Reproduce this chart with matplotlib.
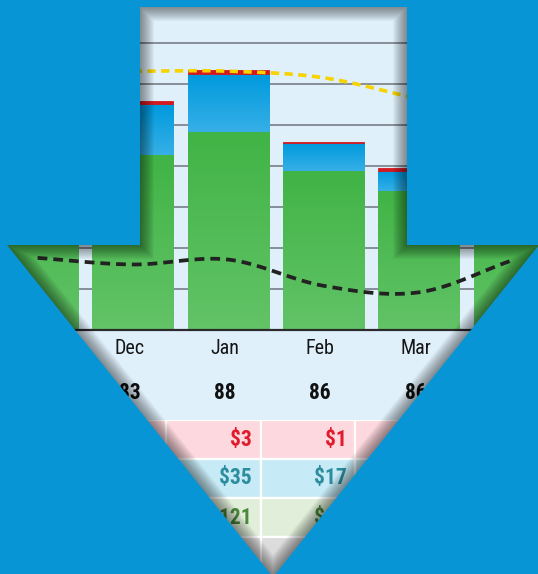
import numpy as np
import matplotlib
matplotlib.use( "Agg" )
import matplotlib.pyplot as plt
from matplotlib.patches import Polygon, PathPatch
from matplotlib.path import Path
from matplotlib import transforms
from matplotlib.colors import to_rgb


# data
months = ["Nov", "Dec", "Jan", "Feb", "Mar", "Apr"]
green_vals = [96, 107, 121, 97, 85, 78]
blue_vals = [26, 31, 35, 17, 12, 14]
red_vals = [2, 2, 3, 1, 2, 2]
yellow_vals = [158, 158, 158, 154, 141, 128]
black_vals = [44, 40, 43, 27, 23, 43]
score_vals = [85, 83, 88, 86, 86, 84]

W, H = 538, 574
BG_BLUE = "#0895D6"
LIGHT = "#DFF0FB"
NARROW = ["Roboto Condensed", "Liberation Sans", "DejaVu Sans"]


def px_axes( fig, x0, y0, x1, y1, **kw ):
    # axes placed in pixel coords (y from top)
    return fig.add_axes( [x0 / W, 1 - y1 / H, (x1 - x0) / W, (y1 - y0) / H], **kw )


def smooth_curve( x, y, n=24 ):
    x = np.asarray( x, float )
    y = np.asarray( y, float )
    m = np.gradient( y, x )
    xs, ys = [], []
    for i in range( len( x ) - 1 ):
        t = np.linspace( 0, 1, n, endpoint=False )
        h = x[i + 1] - x[i]
        h00 = 2 * t**3 - 3 * t**2 + 1
        h10 = t**3 - 2 * t**2 + t
        h01 = -2 * t**3 + 3 * t**2
        h11 = t**3 - t**2
        xs.append( x[i] + t * h )
        ys.append( h00 * y[i] + h10 * h * m[i] + h01 * y[i + 1] + h11 * h * m[i + 1] )
    xs.append( [x[-1]] )
    ys.append( [y[-1]] )
    return np.concatenate( xs ), np.concatenate( ys )


def gradient_fill( ax, patch, top, bottom ):
    x, y = patch.get_x(), patch.get_y()
    w, h = patch.get_width(), patch.get_height()
    c = np.linspace( to_rgb( bottom ), to_rgb( top ), 32 ).reshape( 32, 1, 3 )
    ax.imshow( c, extent=[x, x + w, y, y + h], origin="lower", aspect="auto",
               interpolation="bilinear", zorder=patch.get_zorder() + 0.1 )


def draw_chart( fig, ax_bg ):
    ax = px_axes( fig, -10.05, 2.4, 561.75, 330 )
    ax.set_facecolor( "none" )
    pos = np.arange( len( months ) )

    ax.set_yticks( np.arange( 0, 201, 25 ) )
    ax.grid( axis="y", color="#7F878F", linewidth=1.3 )
    ax.set_axisbelow( True )

    g = ax.bar( pos, green_vals, width=0.85, color="#45B54A", zorder=2 )
    b = ax.bar( pos, blue_vals, bottom=green_vals, width=0.85, color="#1AA3E2", zorder=2 )
    tops = np.array( green_vals ) + np.array( blue_vals )
    ax.bar( pos, red_vals, bottom=tops, width=0.85, color="#D51920",
            edgecolor="#D51920", linewidth=0.6, zorder=3 )

    for p in g:
        gradient_fill( ax, p, "#41B446", "#62C367" )
    for p in b:
        gradient_fill( ax, p, "#009ADE", "#36AFE6" )

    xs, ys = smooth_curve( pos, yellow_vals )
    ax.plot( xs, ys, color="#F7D300", linewidth=2.6, dashes=(2.3, 1.5), zorder=5 )
    xs, ys = smooth_curve( pos, black_vals )
    ax.plot( xs, ys, color="#222222", linewidth=2.7, dashes=(2.6, 1.6), zorder=5 )

    ax.set_xlim( -0.5, len( months ) - 0.5 )
    ax.set_ylim( 0, 200 )
    ax.set_xticks( [] )
    ax.tick_params( left=False, labelleft=False )
    for s in ["top", "left", "right"]:
        ax.spines[s].set_visible( False )
    ax.spines["bottom"].set_color( "#2B2B2B" )
    ax.spines["bottom"].set_linewidth( 1.6 )

    # month labels and score row
    tr = transforms.blended_transform_factory( ax.transData, ax_bg.transData )
    for i, m in enumerate( months ):
        ax.text( i - 0.035, 348, m, transform=tr, ha="center", va="center",
                 fontsize=14.5, color="#151515", family=NARROW )
        ax.text( i - 0.035, 393, str( score_vals[i] ), transform=tr, ha="center",
                 va="center", fontsize=15.5, fontweight="bold", color="#111111",
                 family=NARROW )


def draw_table( fig ):
    ax = px_axes( fig, -23.4, 420, 544.8, 576 )
    ax.set_facecolor( "none" )
    ax.axis( "off" )
    pos = np.arange( len( months ) )
    totals = [g + b + r for g, b, r in zip( green_vals, blue_vals, red_vals )]

    rows = [
        ( red_vals, "#FDD8DE", "#E11B2C" ),
        ( blue_vals, "#C6EBF6", "#2C8D9E" ),
        ( green_vals, "#E1EFDA", "#4B8A3C" ),
        ( totals, "#DCDCDC", "#555555" ),
    ]
    for r, (vals, bg, fg) in enumerate( rows ):
        ax.bar( pos, 1, bottom=r, width=1, color=bg, edgecolor="white", linewidth=1.6 )
        for i, v in enumerate( vals ):
            ax.text( i + 0.5 - 0.095, r + 0.5, f"${v}", ha="right", va="center",
                     fontsize=15.5, fontweight="bold", color=fg, family=NARROW )

    ax.set_xlim( -0.5, len( months ) - 0.5 )
    ax.set_ylim( 4, 0 )


def draw_mask( fig ):
    ax = px_axes( fig, 0, 0, W, H, zorder=10 )
    ax.set_xlim( 0, W )
    ax.set_ylim( H, 0 )
    ax.axis( "off" )

    arrow = [(140, 7), (407, 7), (407, 245), (539, 245), (273, 577), (7, 245), (140, 245)]

    # inner shadow along the arrow edge
    for k in range( 1, 15 ):
        ax.add_patch( Polygon( arrow, closed=True, fill=False, edgecolor="black",
                               alpha=0.035, linewidth=2 * k * 0.72, joinstyle="miter" ) )

    outer = [(-10, -10), (W + 10, -10), (W + 10, H + 10), (-10, H + 10), (-10, -10)]
    inner = arrow[::-1] + [arrow[-1]]
    verts = outer + inner
    codes = ( [Path.MOVETO] + [Path.LINETO] * 3 + [Path.CLOSEPOLY]
              + [Path.MOVETO] + [Path.LINETO] * ( len( inner ) - 2 ) + [Path.CLOSEPOLY] )
    ax.add_patch( PathPatch( Path( verts, codes ), facecolor=BG_BLUE, edgecolor="none" ) )


def main():
    fig = plt.figure( figsize=( W / 100, H / 100 ), dpi=100 )
    fig.patch.set_facecolor( BG_BLUE )

    ax_bg = px_axes( fig, 0, 0, W, H, zorder=0 )
    ax_bg.set_xlim( 0, W )
    ax_bg.set_ylim( H, 0 )
    ax_bg.axis( "off" )
    ax_bg.add_patch( plt.Rectangle( (0, 0), W, H, color=LIGHT ) )

    draw_chart( fig, ax_bg )
    draw_table( fig )
    draw_mask( fig )

    fig.savefig( "out.png", dpi=100 )


if __name__ == "__main__":
    main()
